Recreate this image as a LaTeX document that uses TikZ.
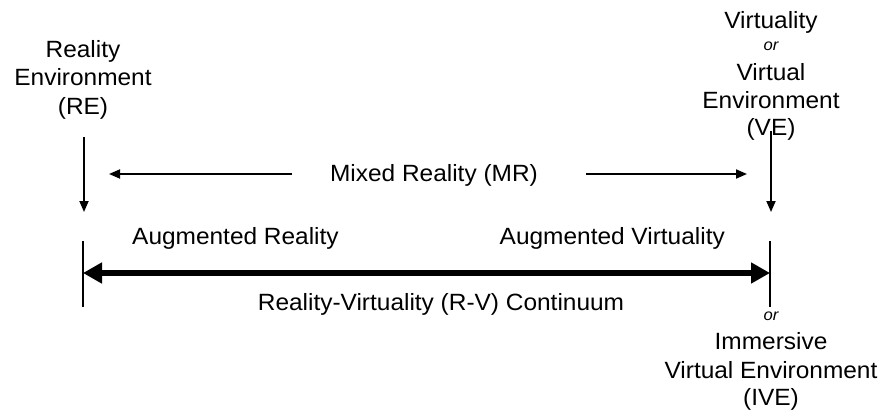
\documentclass[tikz,border=0pt]{standalone}
\usepackage{fontspec}
\setmainfont{Liberation Sans}[FakeStretch=1.04]
\usetikzlibrary{arrows.meta}
\begin{document}
\begin{tikzpicture}[x=1pt,y=-1pt,
  lbl/.style={font=\fontsize{23.5}{29}\selectfont, inner sep=0pt, anchor=base},
  ortxt/.style={font=\fontsize{16}{18}\selectfont\itshape, inner sep=0pt, anchor=base},
  thinarrow/.style={line width=1.8pt, -{Triangle[length=11pt,width=9pt]}},
  axisline/.style={line width=5.5pt, {Triangle[length=19pt,width=20pt]}-{Triangle[length=19pt,width=20pt]}},
  tick/.style={line width=1.2pt}]
\useasboundingbox (0,0) rectangle (882,412);
% left label
\node[lbl] (re1) at (83,57) {Reality};
\node[lbl] (re2) at (83,85.5) {Environment};
\node[lbl] (re3) at (83,114) {(RE)};
% right top label
\node[lbl] (ve1) at (771,28.5) {Virtuality};
\node[ortxt] (ve2) at (771,51) {or};
\node[lbl] (ve3) at (771,80) {Virtual};
\node[lbl] (ve4) at (771,108) {Environment};
\node[lbl] (ve5) at (771,135.5) {(VE)};
% right bottom label
\node[ortxt] (ive1) at (771,320) {or};
\node[lbl] (ive2) at (771,349) {Immersive};
\node[lbl] (ive3) at (771,378) {Virtual Environment};
\node[lbl] (ive4) at (771,405) {(IVE)};
% middle labels
\node[lbl] (mr) at (434,181) {Mixed Reality (MR)};
\node[lbl, anchor=base west] (ar) at (132,244) {Augmented Reality};
\node[lbl, anchor=base east] (av) at (725,244) {Augmented Virtuality};
\node[lbl] (rv) at (441,310) {Reality-Virtuality (R-V) Continuum};
% coordinates
\coordinate (reTop) at (84,137);
\coordinate (reBot) at (84,212);
\coordinate (veTop) at (771,131);
\coordinate (veBot) at (771,212);
\coordinate (mrLs) at (292,174);
\coordinate (mrLe) at (109,174);
\coordinate (mrRs) at (586,174);
\coordinate (mrRe) at (747,174);
\coordinate (tickLt) at (83,241);
\coordinate (tickLb) at (83,307);
\coordinate (tickRt) at (770,241);
\coordinate (tickRb) at (770,307);
\coordinate (axL) at (83,273);
\coordinate (axR) at (770,273);
% arrows
\draw[thinarrow] (reTop) -- (reBot);
\draw[thinarrow] (veTop) -- (veBot);
\draw[thinarrow] (mrLs) -- (mrLe);
\draw[thinarrow] (mrRs) -- (mrRe);
\draw[tick] (tickLt) -- (tickLb);
\draw[tick] (tickRt) -- (tickRb);
\draw[axisline] (axL) -- (axR);
\end{tikzpicture}
\end{document}
